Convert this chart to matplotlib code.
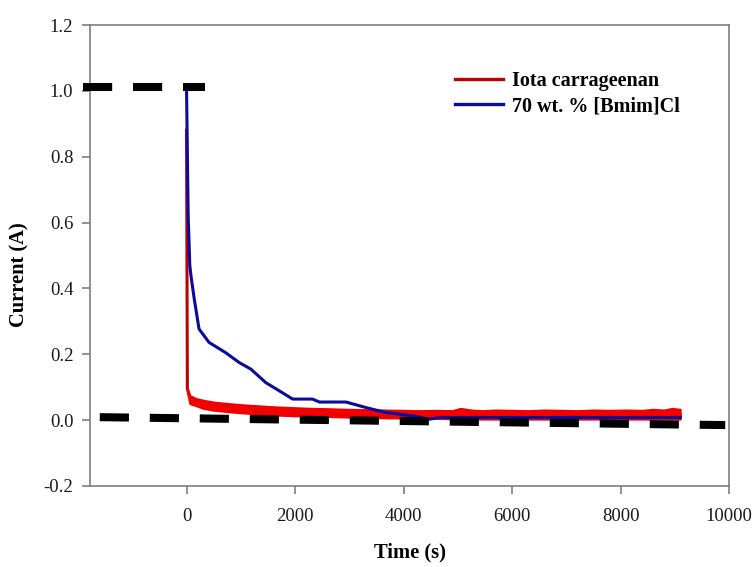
import matplotlib
matplotlib.use("Agg")
import matplotlib.pyplot as plt

plt.rcParams['font.family'] = ['Liberation Serif', 'DejaVu Serif']
plt.rcParams['lines.scale_dashes'] = False

# ---- data ----
blue_time = [0, 30, 60, 80, 140, 230, 415, 720, 970, 1185, 1460, 1710, 1955,
             2320, 2450, 2940, 3310, 3680, 4170, 4480, 4665, 6000, 7500, 9100]
blue_current = [1.0, 0.62, 0.47, 0.44, 0.37, 0.277, 0.236, 0.205, 0.175, 0.155,
                0.114, 0.089, 0.064, 0.064, 0.055, 0.055, 0.038, 0.023, 0.013,
                0.003, 0.008, 0.008, 0.008, 0.008]

red_time = [0, 15, 60, 170, 500, 1100, 2000, 3000, 4000, 5000, 6000, 7000, 8000, 9100]
red_current = [0.88, 0.095, 0.07, 0.057, 0.042, 0.032, 0.026, 0.021, 0.018,
               0.017, 0.016, 0.016, 0.016, 0.017]

band_time = [15, 60, 170, 300, 500, 800, 1100, 1400, 1700, 2000, 2300, 2600,
             3000, 3300, 3600, 4000, 4300, 4600, 4900, 5050, 5250, 5450, 5700,
             6000, 6300, 6600, 6900, 7200, 7500, 7800, 8100, 8400, 8600, 8800,
             8950, 9100]
band_upper = [0.095, 0.075, 0.066, 0.061, 0.055, 0.05, 0.046, 0.043, 0.040,
              0.038, 0.036, 0.035, 0.033, 0.032, 0.031, 0.030, 0.029, 0.030,
              0.029, 0.036, 0.031, 0.029, 0.031, 0.030, 0.029, 0.031, 0.030,
              0.029, 0.031, 0.030, 0.031, 0.030, 0.033, 0.031, 0.036, 0.033]
band_lower = [0.085, 0.05, 0.044, 0.036, 0.03, 0.025, 0.021, 0.018, 0.015,
              0.013, 0.012, 0.011, 0.009, 0.008, 0.007, 0.006, 0.005, 0.005,
              0.004, 0.004, 0.004, 0.003, 0.003, 0.003, 0.003, 0.003, 0.003,
              0.003, 0.003, 0.003, 0.003, 0.003, 0.003, 0.003, 0.003, 0.003]

ref_top_x = [-1900, 340]
ref_top_y = [1.012, 1.012]
ref_bot_x = [-1600, 9930]
ref_bot_y = [0.009, -0.015]

labels = ["Iota carrageenan", "70 wt. % [Bmim]Cl"]
x_ticks = [0, 2000, 4000, 6000, 8000, 10000]
y_ticks = [-0.2, 0.0, 0.2, 0.4, 0.6, 0.8, 1.0, 1.2]

# ---- figure ----
fig = plt.figure(figsize=(7.56, 5.67), dpi=100)
ax = fig.add_axes([90/756, 1-486/567, (729-90)/756, (486-25)/567])

dark_red = '#C00000'
bright_red = '#F20000'
blue = '#0A0A9C'
gray = '#7f7f7f'

ax.fill_between(band_time, band_lower, band_upper, color=bright_red, lw=1.4,
                edgecolor=bright_red, zorder=2)
ax.plot(red_time, red_current, color=dark_red, lw=2.2, zorder=1.9, label=labels[0])
ax.plot(blue_time, blue_current, color=blue, lw=2.2, zorder=3, label=labels[1])

for xs, ys in [(ref_top_x, ref_top_y), (ref_bot_x, ref_bot_y)]:
    ln, = ax.plot(xs, ys, color='black', lw=5.8, solid_capstyle='butt',
                  dash_capstyle='butt', clip_on=False, zorder=4)
    ln.set_dashes((21, 15))

ax.set_xlim(-1780, 10000)
ax.set_ylim(-0.2, 1.2)
ax.set_xticks(x_ticks)
ax.set_yticks(y_ticks)
ax.set_xticklabels([str(v) for v in x_ticks])
ax.set_yticklabels(['%.1f' % v for v in y_ticks])

for s in ax.spines.values():
    s.set_color(gray)
    s.set_linewidth(1.2)
ax.tick_params(axis='both', direction='out', length=6, width=1.2, color=gray,
               labelsize=13.5, labelcolor='#1a1a1a')
ax.tick_params(axis='x', pad=10)
ax.tick_params(axis='y', pad=6)

ax.set_xlabel('Time (s)', fontsize=14.8, fontweight='bold')
ax.set_ylabel('Current (A)', fontsize=14.8, fontweight='bold')
ax.xaxis.set_label_coords(0.5, -0.122)
ax.yaxis.set_label_coords(-0.094, 0.458)

leg = ax.legend(loc='upper left', bbox_to_anchor=(0.571, 0.9), frameon=False,
                fontsize=14.5, handlelength=2.38, handletextpad=0.45,
                labelspacing=0.26, borderpad=0, borderaxespad=0)
for t in leg.get_texts():
    t.set_fontweight('bold')
for h in leg.get_lines():
    h.set_linewidth(2.4)

fig.savefig('out.png', dpi=100)
